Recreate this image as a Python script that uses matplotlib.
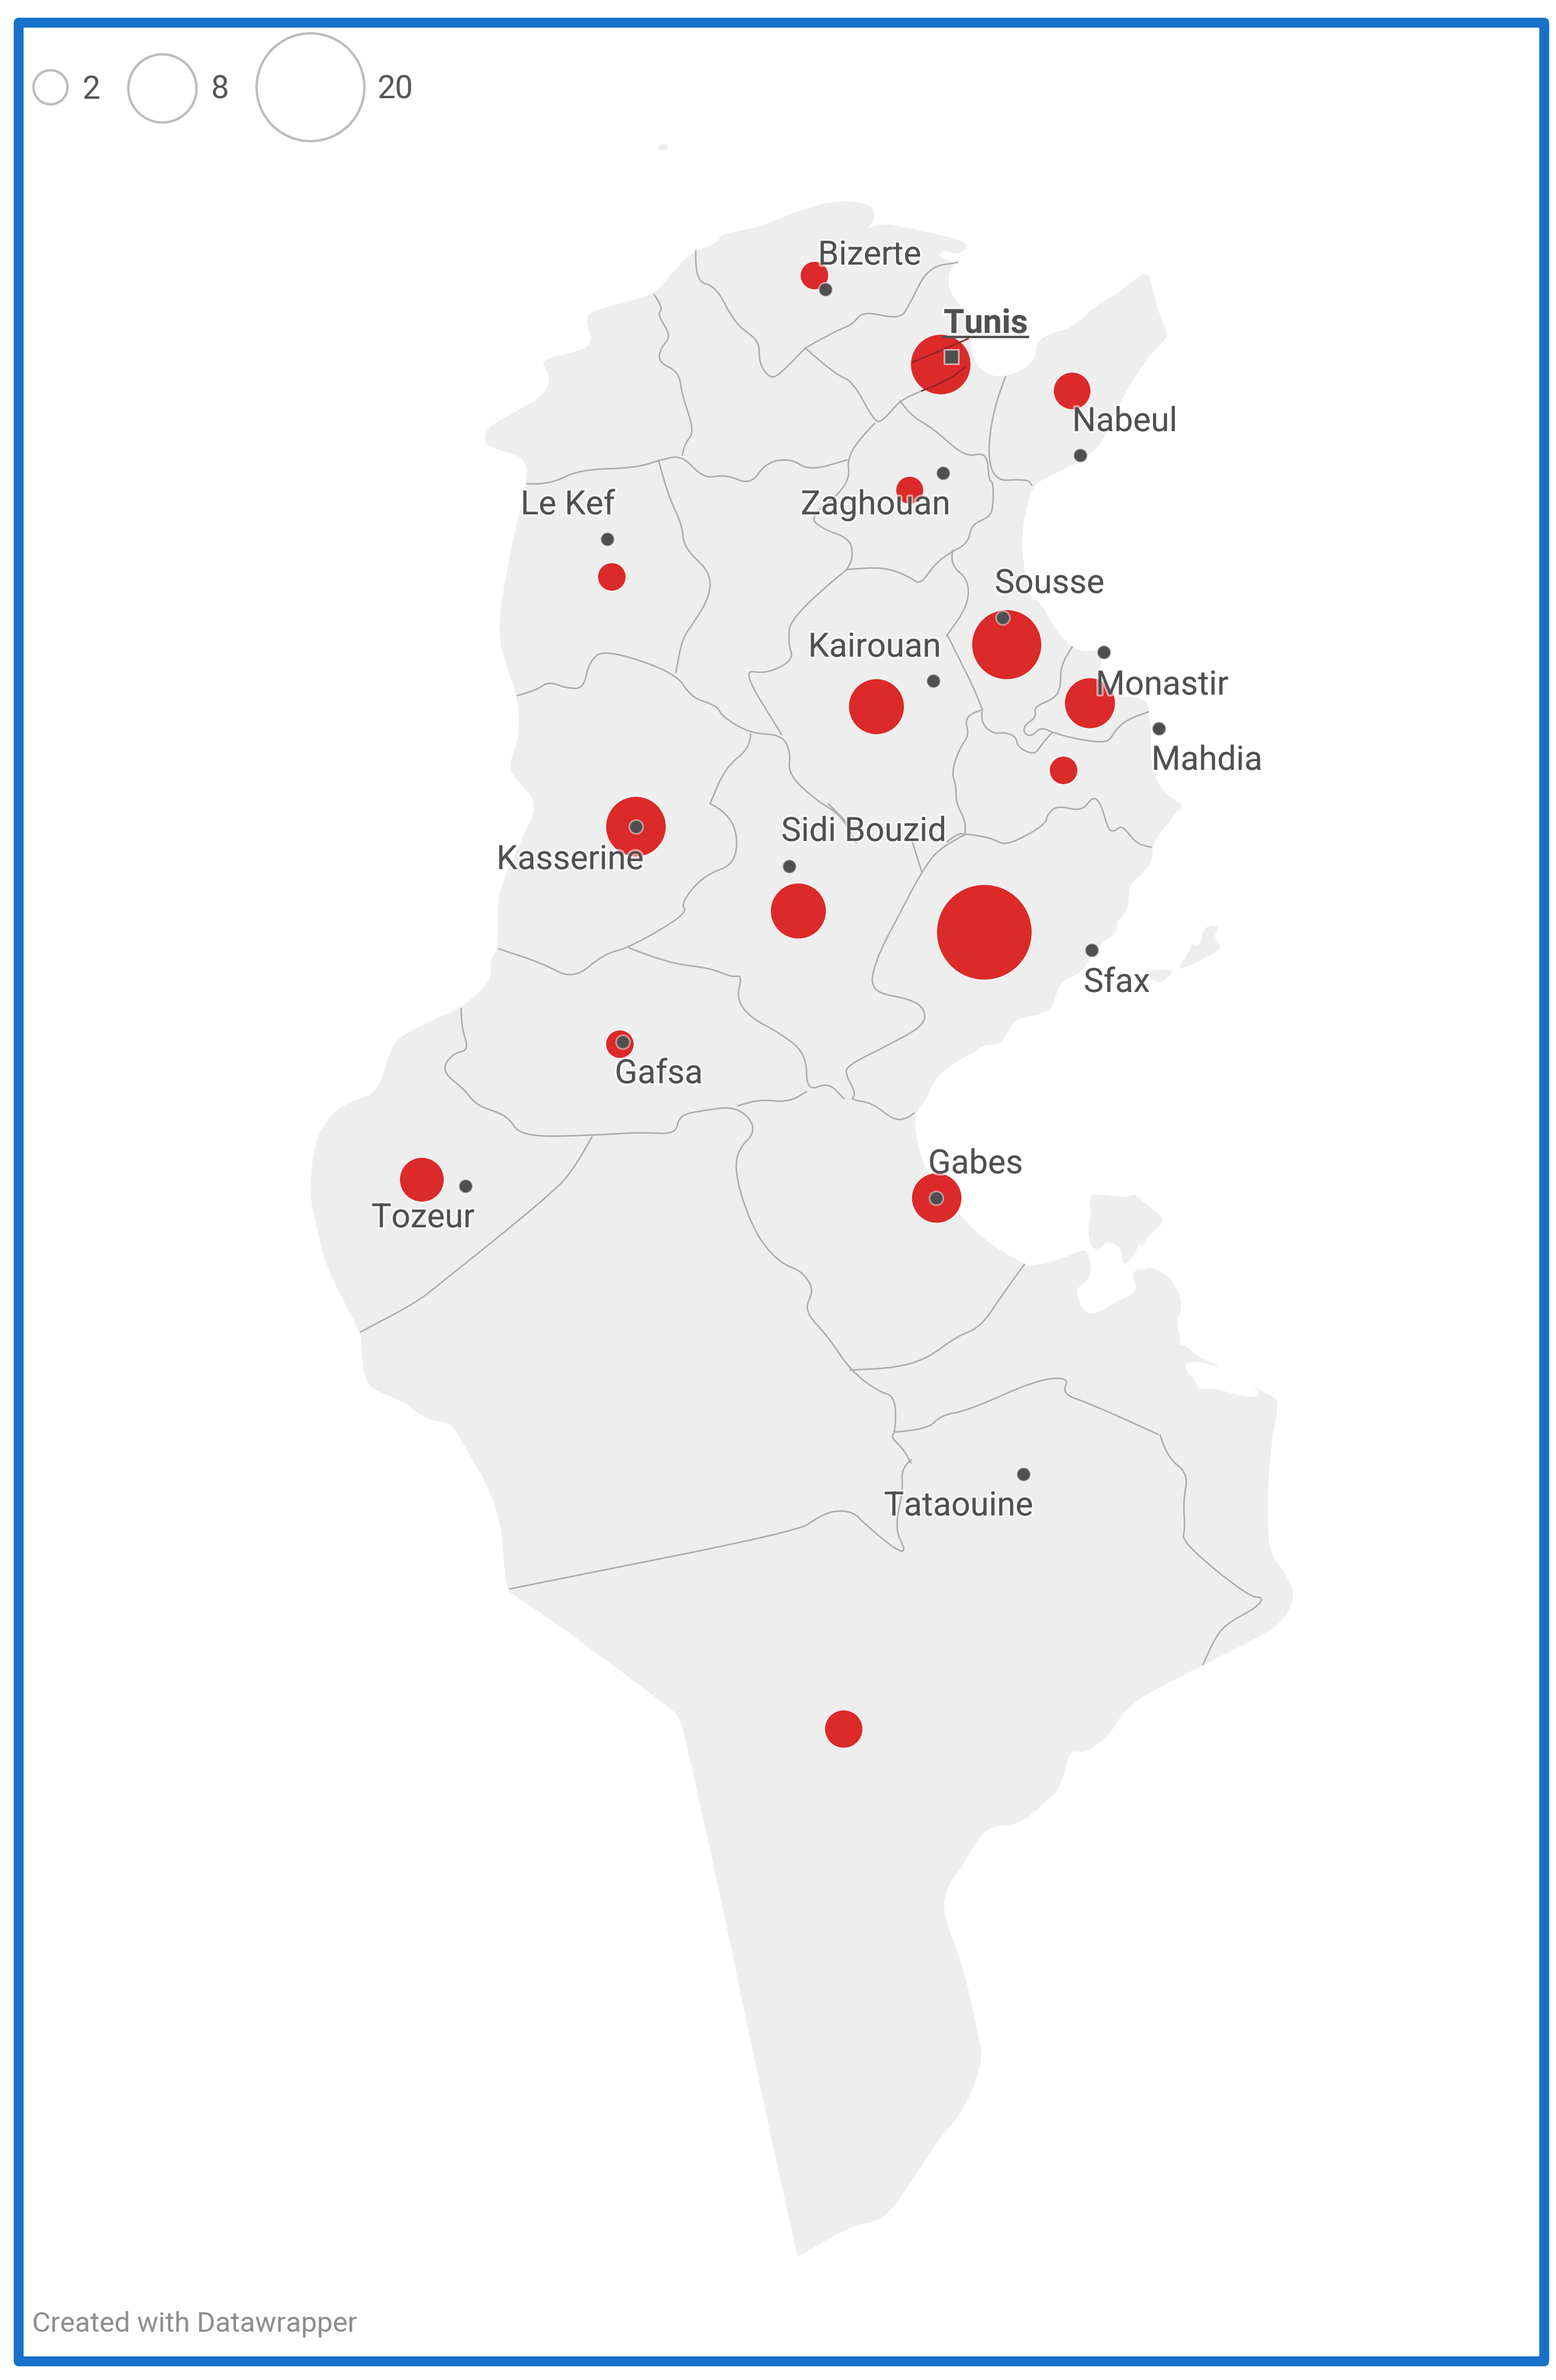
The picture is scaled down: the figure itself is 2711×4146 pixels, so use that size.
import numpy as np
import matplotlib
matplotlib.use("Agg")
import matplotlib.pyplot as plt
from matplotlib.patches import Rectangle, Circle, PathPatch
from matplotlib.path import Path
import matplotlib.patheffects as pe

plt.rcParams['font.family'] = ['Roboto', 'DejaVu Sans']

# crop origin + scale, outlines below were traced on these crops
C1 = (500, 200, 0.9224, 1.206)
C2 = (500, 1400, 0.9224, 1.206)
C3 = (500, 2500, 0.871, 1.045)
C5 = (1750, 2000, 2.851, 2.851)
C6 = (1650, 1000, 2.851, 2.851)
C7 = (1700, 1450, 3.0, 3.0)

def px(pts, c):
    p = np.array(pts, dtype=float)
    return np.column_stack([c[0] + p[:, 0] / c[2], c[1] + p[:, 1] / c[3]])

# traced points are used as quadratic control points, so the outlines stay soft
def soft_path(p, closed=False):
    if closed:
        start = (p[-1] + p[0]) / 2
        verts = [start]
        codes = [Path.MOVETO]
        for i in range(len(p)):
            verts += [p[i], (p[i] + p[(i + 1) % len(p)]) / 2]
            codes += [Path.CURVE3, Path.CURVE3]
        return Path(verts, codes)
    verts = [p[0]]
    codes = [Path.MOVETO]
    for i in range(1, len(p) - 1):
        verts += [p[i], (p[i] + p[i + 1]) / 2]
        codes += [Path.CURVE3, Path.CURVE3]
    verts.append(p[-1])
    codes.append(Path.LINETO)
    return Path(verts, codes)

coast_north = [(316,685),(322,658),(345,640),(380,615),(412,590),(425,550),(408,522),(425,508),(462,500),(492,482),
    (480,430),(490,412),(540,395),(590,378),(618,335),(640,300),(662,283),(690,270),(700,250),(745,240),(775,228),
    (800,212),(830,200),(860,186),(905,180),(942,190),(946,222),(928,243),(950,228),(990,235),(1040,250),(1075,260),
    (1097,275),(1078,295),(1055,282),(1045,300),(1075,308),(1062,335),(1065,375),(1085,405),(1095,450),(1100,495),
    (1110,530),(1130,548),(1155,550),(1185,535),(1203,510),(1205,475),(1230,458),(1262,448),(1300,400),(1340,372),
    (1362,345),(1385,330),(1392,370),(1403,425),(1418,465),(1400,485),(1372,530),(1345,590),(1325,640),(1310,690),
    (1280,725),(1240,750),(1200,775),(1188,825),(1180,890),(1185,960),(1200,1030)]
coast_sahel = [(430,110),(490,180),(520,250),(570,310),(620,360),(680,385),(745,375),(770,430),(755,480),(740,600),
    (1000,615),(1000,690),(1005,720),(1015,800),(1010,900),(1030,1000),(1060,1060),(1110,1110),(1180,1155),(1130,1185),
    (1100,1240),(1060,1280),(1020,1350),(1020,1410),(1000,1460),(950,1500),(910,1550)]
coast_sfax = [(920,80),(925,140),(880,210),(810,265),(800,300),(800,405),(735,465),(745,520),(660,575),(580,690),
    (540,740),(440,780),(405,905),(360,945),(220,975),(190,1000),(140,1095),(90,1110),(30,1115),(0,1150)]
coast_gabes = [(1090,530),(1045,570),(1025,625),(1008,655),(1012,710),(1025,765),(1045,805),(1090,880),(1140,935),(1190,970)]
coast_jerba = [(130,585),(220,570),(310,540),(400,498),(428,545),(428,640),(400,670),(365,690),(355,730),(400,815),
    (440,825),(490,805),(560,760),(640,725),(660,680),(630,625),(665,600),(700,605),(720,588),(810,630),(870,715),
    (882,800),(852,855),(875,940),(870,980),(900,975),(950,1030),(1095,1095),(985,1065),(905,1060),(893,1100),(945,1150),
    (960,1200),(1040,1192),(1190,1235),(1250,1235),(1272,1215),(1235,1180),(1190,1145),(1275,1210),(1358,1240),
    (1355,1320),(1330,1430),(1320,1568)]
coast_south = [(1490,60),(1488,130),(1490,215),(1515,250),(1530,290),(1515,335),(1480,365),(1390,418),(1275,490),
    (1250,545),(1210,580),(1187,572),(1175,640),(1150,670),(1110,710),(1070,710),(1045,740),(1025,785),(1000,825),
    (995,870),(1025,965),(1040,1040),(1048,1090),(1057,1135),(1030,1225),(990,1280),(950,1355),(905,1430),(860,1437),
    (790,1485),(777,1494),(775,1495),(773,1485),(720,1200),(660,850),(605,555),(597,515),(580,495),(400,335),(345,292),
    (337,285),(331,265),(323,130),(260,0)]
coast_west = [(262,1300),(225,1295),(185,1255),(155,1240),(125,1220),(119,1130),(118,1110),(85,1030),(60,960),(48,890),(35,815),
    (45,710),(65,660),(100,625),(145,610),(165,520),(180,490),(240,450),(280,430),(330,370),(325,330),(340,305),
    (338,210),(345,170),(375,80),(405,0)]
coast_kef = [(370,1400),(355,1370),(375,1300),(370,1220),(350,1150),(340,1090),(345,1020),(355,950),(365,880),
    (385,775),(385,720),(330,700)]

jerba = [(420,240),(465,225),(600,248),(650,225),(700,280),(805,352),(740,420),(700,450),(685,505),(675,460),(650,520),
    (600,585),(585,555),(580,495),(515,460),(490,480),(465,505),(430,490),(412,400),(432,350)]
kerkennah_a = [(880,720),(1040,715),(1000,760),(970,785),(920,770)]
kerkennah_b = [(1060,700),(1120,620),(1125,580),(1155,600),(1180,570),(1180,530),(1220,480),(1280,497),(1240,540),
    (1285,600),(1260,625),(1070,720)]
galite = [(592,72),(603,60),(613,62),(612,75)]

borders_c1 = [
    [(657,285),(655,350),(690,360),(720,440),(760,475),(758,520),(775,553),(790,548),(833,490)],
    [(833,490),(880,455),(910,440),(925,412),(985,430),(1000,400),(1030,320),(1078,310)],
    [(833,490),(880,545),(910,560),(945,648),(960,640),(985,600),(1020,580)],
    [(590,378),(605,405),(595,420),(618,465),(600,490),(597,520),(630,540),(635,590),(655,665),(640,690),(635,715)],
    [(385,775),(420,778),(470,745),(560,742),(600,725),(635,715),(670,765),(705,755),(745,778),(770,730),(810,722),(840,748),(900,725)],
    [(945,648),(920,680),(900,725),(905,760),(885,800),(840,845),(860,870),(905,890),(910,930),(900,955)],
    [(985,600),(1000,630),(1040,660),(1090,720),(1125,708),(1128,770),(1135,770),(1135,820),(1130,845),(1100,860),
     (1095,900),(1065,920),(1040,945),(1018,988),(1000,970),(960,950),(900,955)],
    [(1070,915),(1065,945),(1095,975),(1095,1030),(1060,1095)],
    [(1155,550),(1130,630),(1127,770),(1190,765),(1197,778)],
    [(597,725),(612,800),(635,860),(638,910),(680,960),(680,1010),(655,1065),(635,1100),(625,1172)],
    [(370,1220),(400,1210),(420,1190),(450,1205),(477,1205),(485,1150),(510,1122),(625,1172),(650,1225),(690,1240),
     (700,1265),(745,1300),(795,1302),(810,1340),(805,1385),(850,1440),(890,1470),(915,1530)],
    [(900,955),(810,1050),(805,1110),(815,1145),(770,1175),(730,1165),(795,1302)],
    [(745,1300),(745,1330),(705,1370),(680,1447)],
]
# these two run under the Tunis bubble and stay visible through it
borders_tunis = [
    [(1005,520),(1060,490),(1095,470)],
    [(1020,580),(1060,560),(1090,530)],
]
borders_c6 = [
    [(5,310),(60,420),(130,560),(175,670)],
    [(175,670),(165,735),(230,795),(290,785),(345,810),(350,860),(435,900),(470,845),(520,790)],
    [(622,362),(565,440),(565,570),(530,620),(430,660),(445,710),(385,750),(380,790),(420,808),(465,760),(520,785),
     (620,815),(750,835),(805,830),(840,770),(900,720),(1000,685)],
    [(175,675),(120,690),(90,730),(110,800),(60,870),(22,985),(45,1050),(45,1140),(90,1220),(90,1290)],
    [(0,1330),(50,1290),(90,1290),(220,1310),(290,1350),(430,1280),(495,1230),(495,1200),(545,1148),(670,1180),(725,1102),
     (765,1140),(800,1270),(830,1280),(870,1245),(940,1340),(1015,1357)],
]
borders_c2 = [
    [(680,0),(720,25),(725,125),(670,150),(632,210),(645,230),(550,303),(510,315),(460,370),(410,335),(340,305)],
    [(870,0),(900,40)],
    [(1005,80),(1020,143)],
    [(1090,65),(1050,90),(1020,143),(985,230),(945,330),(937,395),(1000,410),(1025,430),(1025,465),(970,505),(900,550),
     (898,570),(915,610),(905,622),(940,628),(975,665),(995,662),(1008,650)],
    [(550,303),(610,335),(680,345),(715,365),(732,360),(722,410),(745,450),(790,480),(835,525),(835,605),(870,585),(895,620)],
    [(725,635),(755,620),(805,628),(835,605)],
    [(280,430),(280,470),(293,518),(265,525),(248,562),(285,600),(305,635),(355,655),(375,700),(490,697),(570,690),(625,695),
     (630,655),(665,645),(725,635),(757,685),(722,730),(722,790),(745,880),(770,935),(800,970),(825,980),(848,1020),(830,1065),
     (870,1120),(905,1190),(950,1235),(978,1245),(978,1320),(970,1330),(990,1355),(1003,1385)],
    [(490,700),(465,760),(430,815),(240,1015),(205,1050),(118,1110)],
    [(1185,968),(1150,1030),(1115,1100),(1075,1120),(1030,1165),(980,1185),(905,1190)],
    [(978,1320),(1030,1315),(1050,1285),(1095,1275),(1205,1210),(1258,1205),(1245,1240),(1290,1260),(1400,1325)],
]
borders_c3 = [
    [(947,45),(932,60),(935,100),(922,170),(940,212),(925,210),(875,160),(860,140),(830,137),(805,150),(775,175),(400,265),(338,280)],
    [(1325,0),(1335,40),(1368,70),(1360,120),(1363,170),(1358,195),(1460,295),(1483,295),(1470,315),(1430,340),(1410,365),(1390,418)],
]

# bubbles
bubble_x = [1419, 1639, 1868, 1585, 1066, 1754, 1899, 1527, 1853, 1108, 1391, 1715, 1080, 735, 1632, 1470]
bubble_y = [480, 635, 681, 854, 1005, 1123, 1225, 1231, 1342, 1440, 1587, 1624, 1819, 2055, 2087, 3012]
bubble_val = [1.3, 6.1, 2.3, 1.25, 1.3, 8.2, 4.3, 5.2, 1.3, 6.1, 5.2, 15.4, 1.3, 3.3, 4.2, 2.4]

# cities
city_names = ['Bizerte', 'Nabeul', 'Zaghouan', 'Le Kef', 'Sousse', 'Monastir', 'Kairouan', 'Mahdia', 'Kasserine',
              'Sidi Bouzid', 'Sfax', 'Gafsa', 'Tozeur', 'Gabes', 'Tataouine']
city_x = [1438, 1882, 1643, 1058, 1747, 1923, 1626, 2019, 1108, 1375, 1902, 1085, 811, 1631, 1783]
city_y = [504, 793, 824, 939, 1076, 1136, 1186, 1269, 1440, 1509, 1655, 1815, 2066, 2087, 2568]
label_x = [1425, 1868, 1395, 907, 1733, 1909, 1408, 2006, 865, 1361, 1888, 1071, 647, 1617, 1540]
label_y = [461, 751, 896, 896, 1033, 1210, 1144, 1341, 1514, 1465, 1728, 1887, 2138, 2044, 2640]
capital = ('Tunis', 1657, 621, 1644, 580)

legend_vals = [2, 8, 20]
legend_x = [88, 283, 541]
legend_y = [152, 154, 152]
legend_tx = [144, 368, 658]

RED = '#dc2929'
DARK = '#4f4f4f'
LAND = '#eeeeee'
LINE = '#adadad'
R_SCALE = 21.0

fig = plt.figure(figsize=(27.11, 41.46), dpi=100)
ax = fig.add_axes([0, 0, 1, 1])
ax.set_xlim(0, 2711)
ax.set_ylim(4146, 0)
ax.axis('off')

land = np.vstack([px(coast_north, C1), px(coast_sahel, C6), px(coast_sfax, C7), px(coast_gabes, C2),
                  px(coast_jerba, C5), px(coast_south, C3), px(coast_west, C2), px(coast_kef, C1)])
ax.add_patch(PathPatch(soft_path(land, closed=True), fc=LAND, ec='none', zorder=1))
for pts, c in [(jerba, C5), (kerkennah_a, C7), (kerkennah_b, C7), (galite, C1)]:
    ax.add_patch(PathPatch(soft_path(px(pts, c), closed=True), fc=LAND, ec='none', zorder=1))

for group, c in [(borders_c1, C1), (borders_c6, C6), (borders_c2, C2), (borders_c3, C3)]:
    for b in group:
        ax.add_patch(PathPatch(soft_path(px(b, c)), fc='none', ec=LINE, lw=1.9, capstyle='round', zorder=2))

for x, y, v in zip(bubble_x, bubble_y, bubble_val):
    ax.add_patch(Circle((x, y), R_SCALE * np.sqrt(v), fc=RED, ec='none', zorder=3))
for b in borders_tunis:
    ax.add_patch(PathPatch(soft_path(px(b, C1)), fc='none', ec='#8f2424', lw=1.9, capstyle='round', zorder=4))

ax.scatter(city_x, city_y, s=(24 * 0.72) ** 2, c=DARK, edgecolors=(1, 1, 1, 0.45), linewidths=2.2, zorder=5)
ax.scatter([capital[1]], [capital[2]], marker='s', s=(25 * 0.72) ** 2, c=DARK, edgecolors=(1, 1, 1, 0.55),
           linewidths=2.2, zorder=5)

halo = [pe.withStroke(linewidth=5, foreground=(1, 1, 1, 0.55))]
for name, x, y in zip(city_names, label_x, label_y):
    ax.text(x, y, name, fontsize=42, color='#505050', ha='left', va='baseline', path_effects=halo, zorder=6)
t = ax.text(capital[3], capital[4], capital[0], fontsize=42, fontweight='bold', color='#505050', ha='left',
            va='baseline', path_effects=halo, zorder=6)
fig.canvas.draw()
w = t.get_window_extent().width
ax.plot([capital[3], capital[3] + w], [capital[4] + 7, capital[4] + 7], color='#505050', lw=3, zorder=6)

for v, x, y, tx in zip(legend_vals, legend_x, legend_y, legend_tx):
    ax.add_patch(Circle((x, y), R_SCALE * np.sqrt(v), fc='none', ec='#bcbcbc', lw=3, zorder=3))
    ax.text(tx, 172, str(v), fontsize=40, color='#555555', ha='left', va='baseline')

ax.text(56, 4062, 'Created with Datawrapper', fontsize=35.3, color='#8e8e8e', ha='left', va='baseline')

# blue frame
ax.add_patch(Rectangle((31.5, 39), 2658, 4074, fc='none', ec='#1771c9', lw=12.4, joinstyle='round', zorder=10))

fig.savefig('out.png', dpi=100, facecolor='white')
